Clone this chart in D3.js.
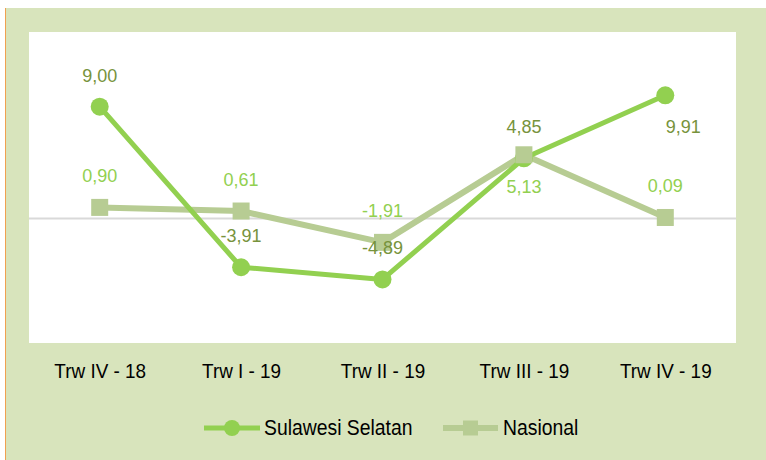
<!DOCTYPE html>
<html>
<head>
<meta charset="utf-8">
<script src="https://cdn.jsdelivr.net/npm/d3@7"></script>
<style>
  body { margin: 0; background: #fff; }
  text { font-family: "Liberation Sans", Arial, sans-serif; }
</style>
</head>
<body>
<svg width="766" height="460"></svg>
<script>
var categories = ["Trw IV - 18", "Trw I - 19", "Trw II - 19", "Trw III - 19", "Trw IV - 19"];
var sulselValues = [9.00, -3.91, -4.89, 4.85, 9.91];
var nasionalValues = [0.90, 0.61, -1.91, 5.13, 0.09];
var seriesNames = ["Sulawesi Selatan", "Nasional"];

// where each data label sits relative to its point
var sulselLabelPos = ["above", "above", "above", "above", "belowRight"];
var nasionalLabelPos = ["above", "above", "above", "below", "above"];

var svg = d3.select("svg");

var green = "#92d050",
    grey = "#b7cc93",
    olive = "#77933c";

// frame
svg.append("rect").attr("x", 6).attr("y", 8).attr("width", 760).attr("height", 452).attr("fill", "#d8e4bc");
svg.append("line").attr("x1", 5.5).attr("x2", 5.5).attr("y1", 8).attr("y2", 460)
  .attr("stroke", "#f0a050").attr("stroke-width", 1);

var plot = { left: 29, right: 736, top: 32, bottom: 343 };
svg.append("rect").attr("x", plot.left).attr("y", plot.top)
  .attr("width", plot.right - plot.left).attr("height", plot.bottom - plot.top)
  .attr("fill", "#fff");

var x = d3.scalePoint().domain(categories).range([plot.left, plot.right]).padding(0.5);
var y = d3.scaleLinear().domain([-10, 15]).range([plot.bottom, plot.top]);

// zero line
svg.append("line")
  .attr("x1", plot.left).attr("x2", plot.right)
  .attr("y1", y(0)).attr("y2", y(0))
  .attr("stroke", "#d9d9d9").attr("stroke-width", 2);

// category axis
var xAxis = svg.append("g")
  .attr("transform", "translate(0," + 356 + ")")
  .call(d3.axisBottom(x).tickSize(0).tickPadding(0));
xAxis.select(".domain").remove();
xAxis.selectAll(".tick text")
  .attr("font-size", 21)
  .attr("fill", "#000")
  .attr("font-family", "Liberation Sans, Arial, sans-serif")
  .attr("dy", null)
  .attr("y", 0)
  .attr("transform", "translate(0,22) scale(0.9,1)");

var line = d3.line()
  .x(function(d, i) { return x(categories[i]); })
  .y(function(d) { return y(d); });

svg.append("path").datum(nasionalValues)
  .attr("d", line).attr("fill", "none")
  .attr("stroke", grey).attr("stroke-width", 6).attr("stroke-linejoin", "round");

svg.append("path").datum(sulselValues)
  .attr("d", line).attr("fill", "none")
  .attr("stroke", green).attr("stroke-width", 5).attr("stroke-linejoin", "round");

svg.append("g").selectAll("circle")
  .data(sulselValues)
  .enter().append("circle")
  .attr("cx", function(d, i) { return x(categories[i]); })
  .attr("cy", function(d) { return y(d); })
  .attr("r", 9)
  .attr("fill", green);

svg.append("g").selectAll("rect")
  .data(nasionalValues)
  .enter().append("rect")
  .attr("x", function(d, i) { return x(categories[i]) - 8.5; })
  .attr("y", function(d) { return y(d) - 8.5; })
  .attr("width", 17).attr("height", 17)
  .attr("fill", grey);

// comma decimals, plain hyphen for minus
function fmt(v) { return d3.format(".2f")(v).replace(".", ",").replace("\u2212", "-"); }

function labelX(pos, i) { return x(categories[i]) + (pos === "belowRight" ? 18 : 0); }
function labelY(pos, v) { return y(v) + (pos === "above" ? -25 : 38); }

svg.append("g").selectAll("text")
  .data(nasionalValues)
  .enter().append("text")
  .attr("x", function(d, i) { return labelX(nasionalLabelPos[i], i); })
  .attr("y", function(d, i) { return labelY(nasionalLabelPos[i], d); })
  .attr("text-anchor", "middle")
  .attr("font-size", 18)
  .attr("fill", green)
  .text(fmt);

svg.append("g").selectAll("text")
  .data(sulselValues)
  .enter().append("text")
  .attr("x", function(d, i) { return labelX(sulselLabelPos[i], i); })
  .attr("y", function(d, i) { return labelY(sulselLabelPos[i], d); })
  .attr("text-anchor", "middle")
  .attr("font-size", 18)
  .attr("fill", olive)
  .text(fmt);

// legend
var legend = svg.append("g");
var lg1 = legend.append("g").attr("transform", "translate(204,428)");
lg1.append("line").attr("x1", 0).attr("x2", 56).attr("stroke", green).attr("stroke-width", 5);
lg1.append("circle").attr("cx", 28).attr("r", 8).attr("fill", green);
lg1.append("text").attr("transform", "translate(60,7) scale(0.88,1)")
  .attr("font-size", 22).attr("fill", "#000").text(seriesNames[0]);

var lg2 = legend.append("g").attr("transform", "translate(443,428)");
lg2.append("line").attr("x1", 0).attr("x2", 55).attr("stroke", grey).attr("stroke-width", 6);
lg2.append("rect").attr("x", 20).attr("y", -7.5).attr("width", 15).attr("height", 15).attr("fill", grey);
lg2.append("text").attr("transform", "translate(60,7) scale(0.88,1)")
  .attr("font-size", 22).attr("fill", "#000").text(seriesNames[1]);
</script>
</body>
</html>
